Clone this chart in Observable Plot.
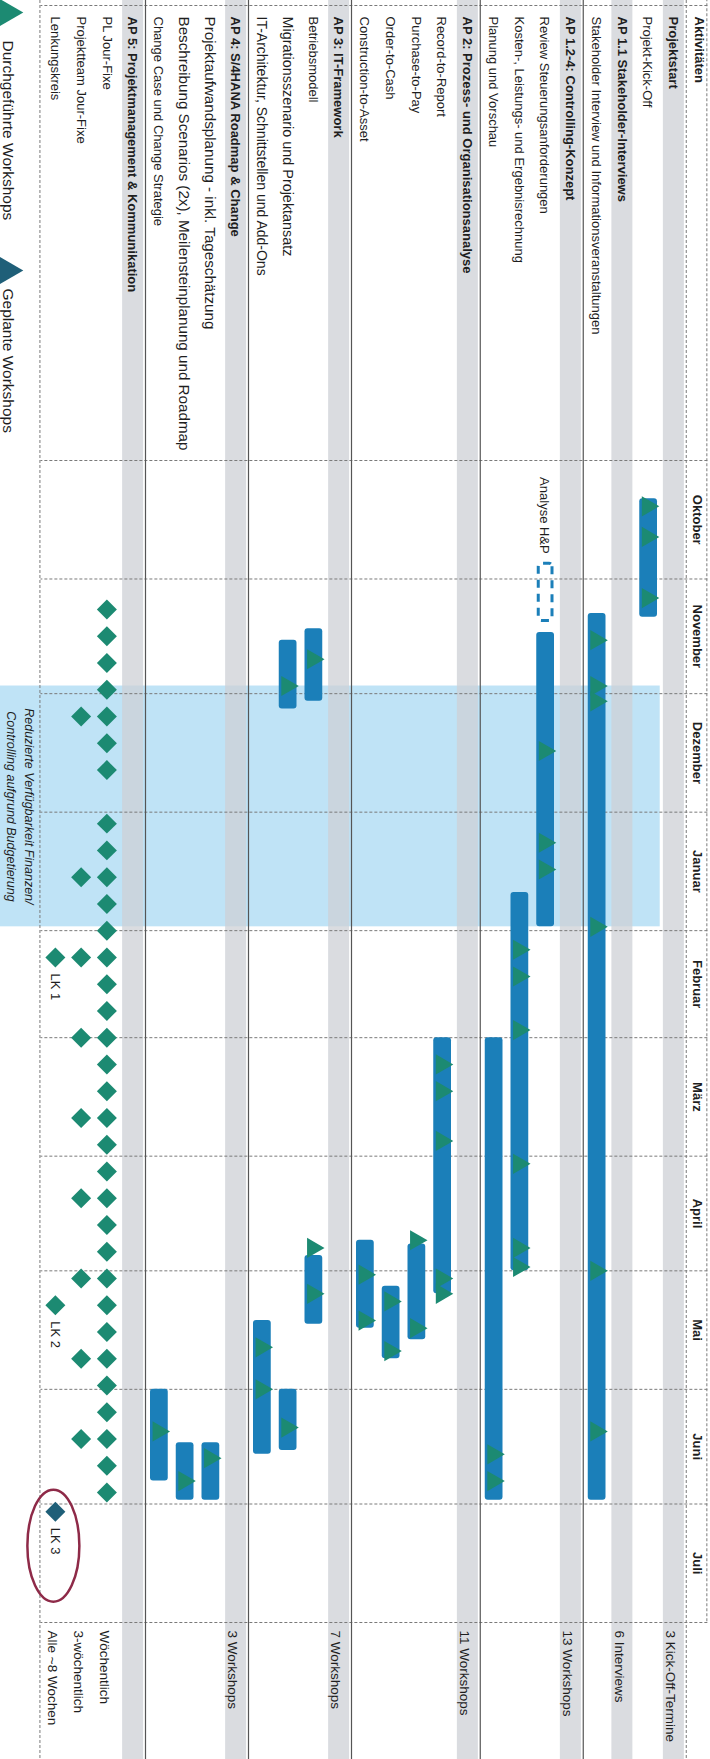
<!DOCTYPE html>
<html>
<head>
<meta charset="utf-8">
<script src="https://cdn.jsdelivr.net/npm/d3@7"></script>
<script src="https://cdn.jsdelivr.net/npm/@observablehq/plot@0.6"></script>
<style>
html, body { margin: 0; padding: 0; background: #fff; overflow: hidden; }
#wrap { position: relative; width: 710px; height: 1759px; overflow: hidden; background: #fff; }
#chart { position: absolute; left: 0; top: 0; width: 1759px; height: 710px;
  transform-origin: 0 0; transform: translate(710px, 0) rotate(90deg); }
#chart svg { display: block; }
</style>
</head>
<body>
<div id="wrap"><div id="chart"></div></div>
<script>
const D = s => new Date(s + "T00:00:00Z");

// ---------- data ----------
const rows = [
  "Aktivitäten",
  "Projektstart",
  "Projekt-Kick-Off",
  "AP 1.1 Stakeholder-Interviews",
  "Stakeholder Interview und Informationsveranstaltungen",
  "AP 1.2-4: Controlling-Konzept",
  "Review Steuerungsanforderungen",
  "Kosten-, Leistungs- und Ergebnisrechnung",
  "Planung und Vorschau",
  "AP 2: Prozess- und Organisationsanalyse",
  "Record-to-Report",
  "Purchase-to-Pay",
  "Order-to-Cash",
  "Construction-to-Asset",
  "AP 3: IT-Framework",
  "Betriebsmodell",
  "Migrationsszenario und Projektansatz",
  "IT-Architektur, Schnittstellen und Add-Ons",
  "AP 4: S/4HANA Roadmap & Change",
  "Projektaufwandsplanung - inkl. Tageschätzung",
  "Beschreibung Scenarios (2x), Meilensteinplanung und Roadmap",
  "Change Case und Change Strategie",
  "AP 5: Projektmanagement & Kommunikation",
  "PL Jour-Fixe",
  "Projektteam Jour-Fixe",
  "Lenkungskreis"
];
const boldRows = ["Aktivitäten", "Projektstart", "AP 1.1 Stakeholder-Interviews",
  "AP 1.2-4: Controlling-Konzept", "AP 2: Prozess- und Organisationsanalyse",
  "AP 3: IT-Framework", "AP 4: S/4HANA Roadmap & Change",
  "AP 5: Projektmanagement & Kommunikation"];
const sectionRows = boldRows.slice(1);
const separatorRows = ["AP 1.2-4: Controlling-Konzept", "AP 2: Prozess- und Organisationsanalyse",
  "AP 3: IT-Framework", "AP 4: S/4HANA Roadmap & Change", "AP 5: Projektmanagement & Kommunikation"];

const months = ["Oktober", "November", "Dezember", "Januar", "Februar", "März", "April", "Mai", "Juni", "Juli"];
const monthStarts = ["2022-10-01", "2022-11-01", "2022-12-01", "2023-01-01", "2023-02-01", "2023-03-01",
  "2023-04-01", "2023-05-01", "2023-06-01", "2023-07-01", "2023-08-01"];

const bars = [
  ["Projekt-Kick-Off", "2022-10-11", "2022-11-11"],
  ["Stakeholder Interview und Informationsveranstaltungen", "2022-11-10", "2023-06-30"],
  ["Review Steuerungsanforderungen", "2022-11-15", "2023-01-31"],
  ["Kosten-, Leistungs- und Ergebnisrechnung", "2023-01-22", "2023-05-01"],
  ["Planung und Vorschau", "2023-03-01", "2023-06-30"],
  ["Record-to-Report", "2023-03-01", "2023-05-07"],
  ["Purchase-to-Pay", "2023-04-24", "2023-05-19"],
  ["Order-to-Cash", "2023-05-05", "2023-05-24"],
  ["Construction-to-Asset", "2023-04-23", "2023-05-16"],
  ["Betriebsmodell", "2022-11-14", "2022-12-03"],
  ["Betriebsmodell", "2023-04-27", "2023-05-15"],
  ["Migrationsszenario und Projektansatz", "2022-11-17", "2022-12-05"],
  ["Migrationsszenario und Projektansatz", "2023-06-01", "2023-06-17"],
  ["IT-Architektur, Schnittstellen und Add-Ons", "2023-05-14", "2023-06-18"],
  ["Projektaufwandsplanung - inkl. Tageschätzung", "2023-06-15", "2023-06-30"],
  ["Beschreibung Scenarios (2x), Meilensteinplanung und Roadmap", "2023-06-15", "2023-06-30"],
  ["Change Case und Change Strategie", "2023-06-01", "2023-06-25"]
];
const analyse = [["Review Steuerungsanforderungen", "2022-10-28", "2022-11-12", "Analyse H&P"]];

const workshops = [
  ["Projekt-Kick-Off", "2022-10-13"], ["Projekt-Kick-Off", "2022-10-21"], ["Projekt-Kick-Off", "2022-11-06"],
  ["Stakeholder Interview und Informationsveranstaltungen", "2022-11-17"],
  ["Stakeholder Interview und Informationsveranstaltungen", "2022-11-29"],
  ["Stakeholder Interview und Informationsveranstaltungen", "2022-12-03"],
  ["Stakeholder Interview und Informationsveranstaltungen", "2023-01-31"],
  ["Stakeholder Interview und Informationsveranstaltungen", "2023-05-01"],
  ["Stakeholder Interview und Informationsveranstaltungen", "2023-06-12"],
  ["Review Steuerungsanforderungen", "2022-12-16"], ["Review Steuerungsanforderungen", "2023-01-09"],
  ["Review Steuerungsanforderungen", "2023-01-16"],
  ["Kosten-, Leistungs- und Ergebnisrechnung", "2023-02-06"], ["Kosten-, Leistungs- und Ergebnisrechnung", "2023-02-13"],
  ["Kosten-, Leistungs- und Ergebnisrechnung", "2023-02-27"], ["Kosten-, Leistungs- und Ergebnisrechnung", "2023-04-03"],
  ["Kosten-, Leistungs- und Ergebnisrechnung", "2023-04-25"], ["Kosten-, Leistungs- und Ergebnisrechnung", "2023-04-30"],
  ["Planung und Vorschau", "2023-06-18"], ["Planung und Vorschau", "2023-06-25"],
  ["Record-to-Report", "2023-03-08"], ["Record-to-Report", "2023-03-15"], ["Record-to-Report", "2023-03-28"],
  ["Record-to-Report", "2023-05-03"], ["Record-to-Report", "2023-05-07"],
  ["Purchase-to-Pay", "2023-04-23"], ["Purchase-to-Pay", "2023-05-16"],
  ["Order-to-Cash", "2023-05-09"], ["Order-to-Cash", "2023-05-22"],
  ["Construction-to-Asset", "2023-05-02"], ["Construction-to-Asset", "2023-05-14"],
  ["Betriebsmodell", "2022-11-22"], ["Betriebsmodell", "2023-04-25"], ["Betriebsmodell", "2023-05-07"],
  ["Migrationsszenario und Projektansatz", "2022-11-29"], ["Migrationsszenario und Projektansatz", "2023-06-11"],
  ["IT-Architektur, Schnittstellen und Add-Ons", "2023-05-21"], ["IT-Architektur, Schnittstellen und Add-Ons", "2023-06-01"],
  ["Projektaufwandsplanung - inkl. Tageschätzung", "2023-06-19"],
  ["Beschreibung Scenarios (2x), Meilensteinplanung und Roadmap", "2023-06-25"],
  ["Change Case und Change Strategie", "2023-06-12"]
];

const plJourFixe = ["2022-11-09", "2022-11-16", "2022-11-23", "2022-11-30", "2022-12-07", "2022-12-14", "2022-12-21",
  "2023-01-04", "2023-01-11", "2023-01-18", "2023-01-25", "2023-02-01", "2023-02-08", "2023-02-15", "2023-02-22",
  "2023-03-01", "2023-03-08", "2023-03-15", "2023-03-22", "2023-03-29", "2023-04-05", "2023-04-12", "2023-04-19",
  "2023-04-26", "2023-05-03", "2023-05-10", "2023-05-17", "2023-05-24", "2023-05-31", "2023-06-07", "2023-06-14",
  "2023-06-21", "2023-06-28"];
const teamJourFixe = ["2022-12-07", "2023-01-18", "2023-02-08", "2023-03-01", "2023-03-22", "2023-04-12",
  "2023-05-03", "2023-05-24", "2023-06-14"];
const lenkungskreis = [["LK 1", "2023-02-08", "done"], ["LK 2", "2023-05-10", "done"], ["LK 3", "2023-07-03", "planned"]];

const summaries = [
  ["Projektstart", "3 Kick-Off-Termine"],
  ["AP 1.1 Stakeholder-Interviews", "6 Interviews"],
  ["AP 1.2-4: Controlling-Konzept", "13 Workshops"],
  ["AP 2: Prozess- und Organisationsanalyse", "11 Workshops"],
  ["AP 3: IT-Framework", "7 Workshops"],
  ["AP 4: S/4HANA Roadmap & Change", "3 Workshops"],
  ["PL Jour-Fixe", "Wöchentlich"],
  ["Projektteam Jour-Fixe", "3-wöchentlich"],
  ["Lenkungskreis", "Alle ~8 Wochen"]
];
const reducedPeriod = [["2022-11-29", "2023-01-31", "Reduzierte Verfügbarkeit Finanzen/\nControlling aufgrund Budgetierung"]];

// ---------- styles ----------
const labelFontSize = {
  "Migrationsszenario und Projektansatz": 14.4,
  "IT-Architektur, Schnittstellen und Add-Ons": 14,
  "Projektaufwandsplanung - inkl. Tageschätzung": 15.2,
  "Beschreibung Scenarios (2x), Meilensteinplanung und Roadmap": 15.2
};
const Y = r => rows.indexOf(r);
const BLUE = "#1b7fb9", TEAL = "#1c8a72", PLANNED = "#1f5f78", GRID = "#7a7a7a";
const ellipseSymbol = {
  draw(ctx) {
    const a = 56, b = 26, k = 0.5523;
    ctx.moveTo(a, 0);
    ctx.bezierCurveTo(a, b * k, a * k, b, 0, b);
    ctx.bezierCurveTo(-a * k, b, -a, b * k, -a, 0);
    ctx.bezierCurveTo(-a, -b * k, -a * k, -b, 0, -b);
    ctx.bezierCurveTo(a * k, -b, a, -b * k, a, 0);
  }
};
const monthData = months.map((m, i) => ({m, a: D(monthStarts[i]), b: D(monthStarts[i + 1])}));
const END = D(monthStarts[monthStarts.length - 1]);

const chart = Plot.plot({
  width: 1759,
  height: 710,
  margin: 0,
  style: {fontFamily: "'Liberation Sans', Arial, sans-serif", fontSize: "13px", color: "#1e1e1e", background: "transparent"},
  x: {type: "utc", domain: [D(monthStarts[0]), END], range: [460, 1622], axis: null},
  y: {type: "linear", domain: [1.5, 25.5], range: [49, 667], axis: null},
  marks: [
    // reduced availability region
    Plot.rect(reducedPeriod, {x1: d => D(d[0]), x2: d => D(d[1]), y1: () => 1.55, y2: () => 27.2, fill: "#bfe3f6"}),
    // grey section stripes
    Plot.ruleY(sectionRows, {y: d => Y(d), stroke: "#cdd0d5", strokeOpacity: 0.75, strokeWidth: 21}),
    // month grid + outer borders
    Plot.ruleX(monthStarts, {x: d => D(d), y1: () => -0.3, y2: () => 25.6, stroke: GRID, strokeDasharray: "3,2"}),
    Plot.ruleX([monthStarts[0]], {x: d => D(d), dx: -455, y1: () => -0.3, y2: () => 25.6, stroke: GRID, strokeDasharray: "3,2"}),
    Plot.ruleY([-0.3], {y: d => d, x2: () => END, stroke: GRID, strokeDasharray: "3,2"}),
    Plot.ruleY([0.5, 25.6], {y: d => d, stroke: GRID, strokeDasharray: "3,2"}),
    Plot.ruleY(separatorRows, {y: d => Y(d) - 0.5, stroke: "#555", strokeWidth: 1.2}),
    // bars
    Plot.rect(bars, {x1: d => D(d[1]), x2: d => D(d[2]), y1: d => Y(d[0]) - 0.5, y2: d => Y(d[0]) + 0.5,
      insetTop: 4, insetBottom: 4, fill: BLUE, rx: 3}),
    Plot.rect(analyse, {x1: d => D(d[1]), x2: d => D(d[2]), y1: d => Y(d[0]) - 0.5, y2: d => Y(d[0]) + 0.5,
      insetTop: 6, insetBottom: 6, fill: "none", stroke: BLUE, strokeWidth: 3, strokeDasharray: "8,6", rx: 3}),
    Plot.text(analyse, {x: d => D(d[1]), y: d => Y(d[0]), text: d => d[3], textAnchor: "end", dx: -10, fontSize: 13}),
    // workshops
    Plot.dot(workshops, {x: d => D(d[1]), y: d => Y(d[0]), symbol: "triangle", r: 7.5, fill: TEAL, stroke: "none"}),
    // jour fixes & steering committee
    Plot.dot(plJourFixe, {x: d => D(d), y: () => Y("PL Jour-Fixe"), symbol: d3.symbolDiamond2, r: 9, fill: TEAL, stroke: "none"}),
    Plot.dot(teamJourFixe, {x: d => D(d), y: () => Y("Projektteam Jour-Fixe"), symbol: d3.symbolDiamond2, r: 9, fill: TEAL, stroke: "none"}),
    Plot.dot(lenkungskreis, {x: d => D(d[1]), y: () => Y("Lenkungskreis"), symbol: d3.symbolDiamond2, r: 9,
      fill: d => d[2] === "done" ? TEAL : PLANNED, stroke: "none"}),
    Plot.text(lenkungskreis, {x: d => D(d[1]), y: () => Y("Lenkungskreis"), text: d => d[0], textAnchor: "start", dx: 16, fontSize: 13}),
    Plot.dot(lenkungskreis.filter(d => d[2] === "planned"), {x: d => D(d[1]), y: () => Y("Lenkungskreis"), dx: 34, dy: 2,
      symbol: ellipseSymbol, fill: "none", stroke: "#8e2a48", strokeWidth: 2.5}),
    // row labels
    Plot.text(rows.filter(r => !boldRows.includes(r)), {y: d => Y(d), text: d => d, frameAnchor: "left", dx: 16,
      textAnchor: "start", fontSize: d => labelFontSize[d] || 13}),
    Plot.text(boldRows, {y: d => Y(d), text: d => d, frameAnchor: "left", dx: 16, textAnchor: "start", fontWeight: "bold"}),
    // month headers
    Plot.text(monthData, {x: d => new Date((+d.a + +d.b) / 2), y: () => 0, dy: 2, text: "m", fontWeight: "bold"}),
    // summary column
    Plot.text(summaries, {x: () => END, y: d => Y(d[0]), dx: 8, dy: 3, text: d => d[1], textAnchor: "start", fontSize: 13.5}),
    // note in reduced period
    Plot.text(reducedPeriod, {x: d => new Date((+D(d[0]) + +D(d[1])) / 2), y: () => 26.3, text: d => d[2],
      fontStyle: "italic", fontSize: 12.5, lineHeight: 1.45}),
    // legend
    Plot.dot(["Durchgeführte Workshops"], {frameAnchor: "left", dx: 12, y: () => 26.85, symbol: "triangle", r: 10, fill: TEAL}),
    Plot.text(["Durchgeführte Workshops"], {frameAnchor: "left", dx: 40, y: () => 26.85, text: d => d, textAnchor: "start", fontSize: 15.5}),
    Plot.dot(["Geplante Workshops"], {frameAnchor: "left", dx: 270, y: () => 26.85, symbol: "triangle", r: 10, fill: PLANNED}),
    Plot.text(["Geplante Workshops"], {frameAnchor: "left", dx: 288, y: () => 26.85, text: d => d, textAnchor: "start", fontSize: 15.5})
  ]
});
document.getElementById("chart").appendChild(chart);
</script>
</body>
</html>
